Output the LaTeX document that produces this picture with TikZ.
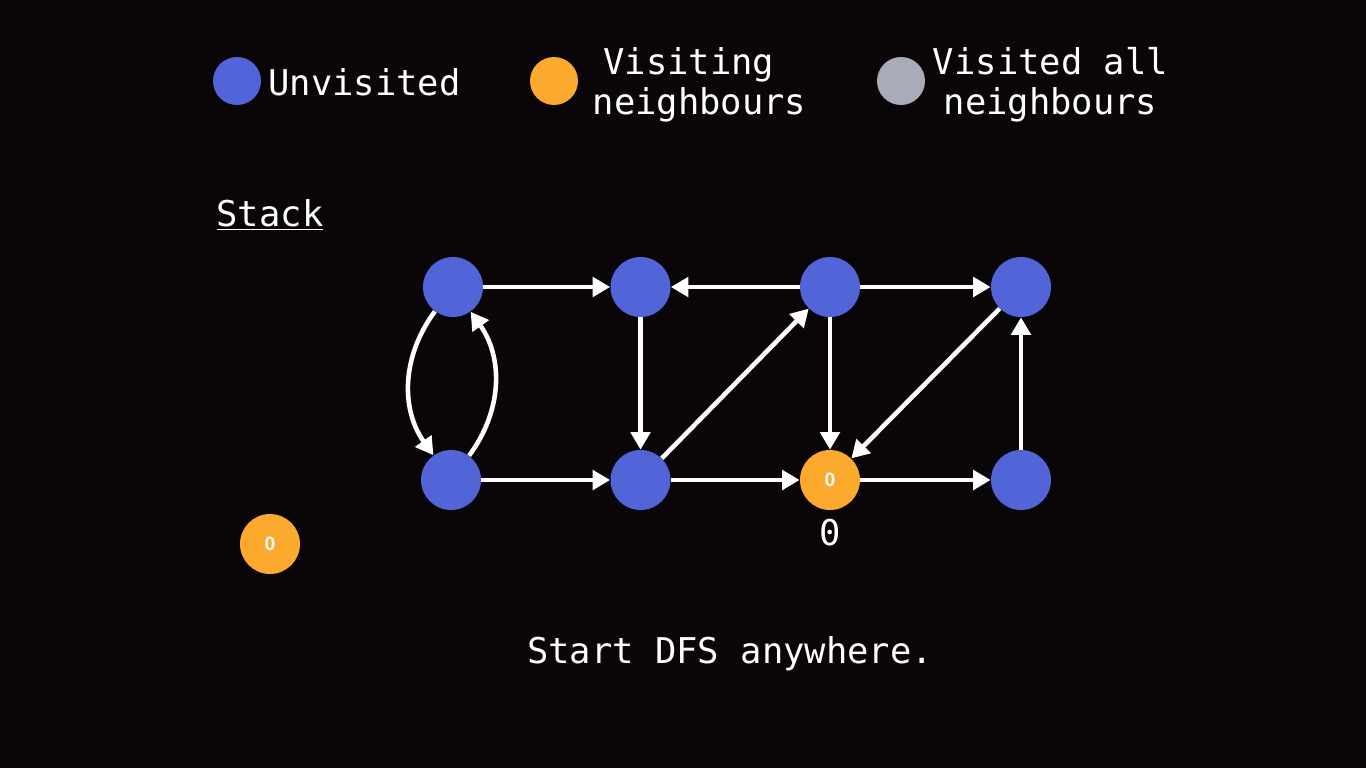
\documentclass[tikz,border=0pt]{standalone}
\usepackage{fontspec}
\setmonofont{DejaVu Sans Mono}
\newfontfamily\numfont{Liberation Sans}
\usetikzlibrary{arrows.meta, positioning}
\definecolor{cbg}{HTML}{0A0608}
\definecolor{cblue}{HTML}{5165D8}
\definecolor{corange}{HTML}{FBAA2E}
\definecolor{cgrey}{HTML}{A9ABB8}
\tikzset{
  every picture/.style={font=\ttfamily\fontsize{20.2}{22.8}\selectfont},
  vert/.style={circle, fill=#1, minimum size=1.2cm, inner sep=0pt, text=white, font=\numfont\bfseries\fontsize{11}{13}\selectfont},
  vert/.default=cblue,
  dot/.style={circle, fill=#1, minimum size=0.96cm, inner sep=0pt},
  arrow/.style={-{Triangle[length=10pt, width=11pt]}, draw=white, line width=2.6pt},
  txt/.style={text=white, inner sep=0pt},
}

\begin{document}
\begin{tikzpicture}[x=0.02cm, y=-0.02cm]
  \fill[cbg] (0,0) rectangle (1366,768);
  \useasboundingbox (0,0) rectangle (1366,768);
  % ---- legend ----
  \node[dot=cblue] (lunv) at (237,81) {};
  \node[txt, anchor=west] (tunv) at (268,82) {Unvisited};
  \node[dot=corange] (lvis) at (554,81) {};
  \node[txt, align=center] (tvis) at (699.5,85) {Visiting\hphantom{x}\\neighbours};
  \node[dot=cgrey] (ldone) at (901,81) {};
  \node[txt, align=center] (tdone) at (1050.5,85) {Visited all\\neighbours};
  % ---- stack ----
  \node[txt] (stack) at (270,215) {\underline{Stack}};
  \node[vert=corange] (s0) at (270,544) {0};
  % ---- graph ----
  \node[vert] (a) at (453,287) {};
  \node[vert] (b) at (640.5,287) {};
  \node[vert] (c) at (830,287) {};
  \node[vert] (d) at (1021,287) {};
  \node[vert] (e) at (451,480) {};
  \node[vert] (f) at (640.5,480) {};
  \node[vert=corange] (g) at (830,480) {0};
  \node[vert] (h) at (1021,480) {};
  \node[txt, below=0.17cm of g] (glab) {0};
  \draw[arrow] (a) -- (b);
  \draw[arrow] (c) -- (b);
  \draw[arrow] (c) -- (d);
  \draw[arrow] (b) -- (f);
  \draw[arrow] (f) -- (c);
  \draw[arrow] (c) -- (g);
  \draw[arrow] (d) -- (g);
  \draw[arrow] (h) -- (d);
  \draw[arrow] (e) -- (f);
  \draw[arrow] (f) -- (g);
  \draw[arrow] (g) -- (h);
  \draw[arrow] (a) to[bend right=36] (e);
  \draw[arrow] (e) to[bend right=36] (a);
  % ---- caption ----
  \node[txt] (cap) at (730,654) {Start DFS anywhere.};
\end{tikzpicture}
\end{document}
